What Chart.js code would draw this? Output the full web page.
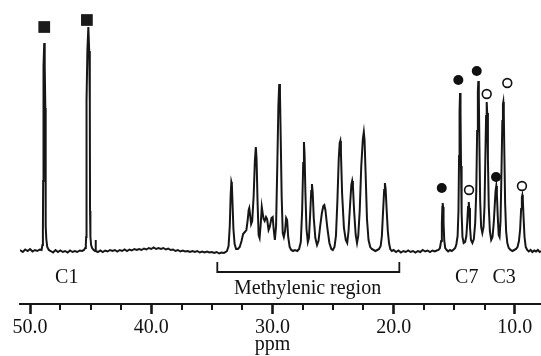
<!DOCTYPE html>
<html><head><meta charset="utf-8">
<script src="https://cdn.jsdelivr.net/npm/chart.js@4.4.1/dist/chart.umd.min.js"></script>
<style>html,body{margin:0;padding:0;background:#fff}canvas{display:block}</style>
</head><body>
<canvas id="c" width="541" height="356"></canvas>
<script>
// Chemical shift (ppm) and intensity
const ppmValues = [
50.83,50.6,50.4,50.2,50.0,49.8,49.6,49.4,49.2,49.05,48.98,48.94,48.92,48.91,48.87,48.83,48.79,48.74,48.72,48.70,48.66,48.58,48.45,
48.3,48.1,47.9,47.7,47.5,47.3,47.1,46.9,46.7,46.5,46.3,46.1,45.9,45.7,45.55,
45.45,45.4,45.37,45.35,45.33,45.27,45.19,45.12,45.07,45.05,45.02,44.96,44.88,44.75,44.64,44.6,44.56,
44.4,44.2,44.0,43.8,43.6,43.4,43.2,43.0,42.8,42.6,42.4,42.2,42.0,41.8,41.6,41.4,41.2,41.0,40.8,40.6,40.4,40.2,40.0,39.8,39.6,39.4,39.2,39.0,38.8,38.6,38.4,38.2,38.0,37.8,37.6,37.4,37.2,37.0,36.8,36.6,36.4,36.2,36.0,35.8,35.6,35.4,35.2,35.0,34.8,34.6,34.4,34.2,34.0,33.85,33.75,
33.62,33.52,33.45,33.39,33.35,33.3,33.22,33.12,33.0,32.85,
32.7,32.55,32.42,32.28,32.15,32.05,31.96,31.91,31.85,31.76,31.67,31.55,31.45,31.37,31.31,31.23,31.14,31.06,30.96,30.88,30.81,30.73,30.64,30.53,30.44,30.32,30.22,30.08,29.98,29.9,29.8,29.7,29.6,29.51,29.44,29.38,29.32,29.24,29.15,29.06,28.96,28.87,28.79,28.7,28.58,28.45,28.3,28.15,27.95,27.8,
27.66,27.55,27.46,27.40,27.35,27.28,27.19,27.08,26.99,26.89,26.8,26.74,26.68,26.59,26.46,26.32,26.2,26.06,25.92,25.8,25.72,25.63,25.47,25.3,25.14,25.02,24.88,24.76,24.64,24.53,24.45,24.4,24.35,24.25,24.1,23.95,23.83,23.72,23.6,23.49,23.42,23.36,23.26,23.13,23.02,22.92,22.8,22.67,22.54,22.46,22.4,22.31,22.2,22.07,21.93,21.8,21.65,21.5,21.35,21.2,21.07,20.97,20.87,20.78,20.72,20.66,20.58,20.48,20.38,20.28,20.15,
20.0,19.8,19.6,19.4,19.2,19.0,18.8,18.6,18.4,18.2,18.0,17.8,17.6,17.4,17.2,17.0,16.8,16.6,16.45,
16.3,16.18,16.08,16.02,15.98,15.95,15.92,15.88,15.82,15.74,15.62,15.5,15.35,15.2,15.05,14.92,14.82,14.72,14.65,14.6,14.56,14.52,14.48,14.44,14.39,14.32,14.22,14.1,14.0,13.92,13.86,13.80,13.76,13.7,13.62,13.5,13.38,13.27,13.18,13.11,13.05,13.01,12.97,12.92,12.86,12.78,12.68,12.58,12.5,12.43,12.37,12.32,12.28,12.22,12.15,12.06,11.95,11.84,11.74,11.66,11.59,11.53,11.48,11.41,11.33,11.26,11.18,11.1,11.03,10.98,10.95,10.91,10.86,10.8,10.72,10.62,10.5,10.35,10.2,10.05,9.9,9.78,9.66,9.56,9.48,9.42,9.38,9.34,9.28,9.2,9.1,8.98,8.85,8.7,8.55,8.4,8.25,8.1,7.95,7.84
];
const intensity = [
1,-1,1.5,0,2,-0.5,1,0,1.5,1,6,20,70,143,185,208,185,143,70,25,12,4,1,
0,-1.5,1,-1,0.5,-1,0,-1.5,0.5,-1,0,-1,0.5,0,1,
3,6,14,40,150,200,224,200,150,40,14,6,3,1,0,11,0,
-1,0.5,-1,0.5,-0.5,1,0,1,-0.5,1,0,1.5,0,1.5,0.5,2,1,2,1,2.5,1.5,3,2,3.5,2,3,2,3,1.5,2.5,1,1.5,0,1,-0.5,0.5,-0.5,0,-1,0,-1,0,-1.5,-0.5,-1.5,-0.5,-1.5,-1,-2,-1,-2.5,-1.5,-2,-1,0,
5,25,55,69,67,50,22,7,2,2,
4,10,17,19,21,30,41,43,37,27,30,55,90,104,92,50,16,13,28,44,38,32,30,34,32,21,24,33,34,22,11,25,85,145,167,158,115,55,18,14,20,33,31,14,4,1,0,1,0,2,
9,40,88,109,97,58,22,9,13,36,60,67,59,33,13,6,10,25,38,45,46,41,23,8,2,1,4,15,50,92,108,110,99,57,23,11,8,20,45,66,70,65,40,16,8,15,40,85,112,119,111,77,32,11,4,2,1,0,1,2,5,15,40,61,68,62,42,20,8,2,0,
1,-1,0.5,-1.5,0,-1,0.5,-1,0,-1.5,0,-1,1,-0.5,0.5,-1,0.5,-0.5,0.5,
1,3,10,28,44,48,44,28,10,3,1,-0.5,1,0,1.5,3,7,15,40,95,140,158,138,85,38,14,8,9,15,30,44,49,43,24,11,8,12,28,60,120,160,170,155,105,50,24,18,24,45,95,135,149,138,92,45,20,11,14,28,45,60,65,57,35,16,14,30,80,130,147,149,138,95,48,20,8,3,1,0,1,2,4,10,22,42,54,56,52,34,14,4,1,-0.5,1,-1,0.5,-0.5,1,-1,0
];
// Peak assignment markers (ppm, intensity)
const squarePpm = [48.83, 45.31];
const squareInt = [224, 231];
const filledPpm = [16.03, 14.66, 13.14, 11.55];
const filledInt = [63, 171, 180, 74];
const openPpm = [13.78, 12.32, 10.62, 9.41];
const openInt = [61, 157, 168, 65];
// Axis ticks
const majorTicks = [50, 40, 30, 20, 10];
const minorTicks = [47.5, 45, 42.5, 37.5, 35, 32.5, 27.5, 25, 22.5, 17.5, 15, 12.5];
const axisTitle = 'ppm';
const regionText = 'Methylenic region';
const carbonLabels = ['C1', 'C7', 'C3'];

const toPts = (xs, ys) => xs.map((v, i) => ({x: v, y: ys[i]}));
const FONT = '"Liberation Serif", "Times New Roman", serif';
const INK = '#161616';

const annot = {
  id: 'annot',
  afterDraw(chart) {
    const {ctx, scales: {x, y}, chartArea} = chart;
    ctx.save();
    // minor ticks
    ctx.strokeStyle = INK; ctx.lineWidth = 2;
    const yb = chartArea.bottom;
    minorTicks.forEach(v => {
      const px = Math.round(x.getPixelForValue(v));
      ctx.beginPath(); ctx.moveTo(px, yb); ctx.lineTo(px, yb + 6); ctx.stroke();
    });
    // bracket for methylenic region
    const bl = x.getPixelForValue(34.55), br = x.getPixelForValue(19.53);
    const bt = y.getPixelForValue(-11), bh = y.getPixelForValue(-21);
    ctx.lineWidth = 1.8;
    ctx.beginPath();
    ctx.moveTo(bl, bt); ctx.lineTo(bl, bh); ctx.lineTo(br, bh); ctx.lineTo(br, bt);
    ctx.stroke();
    // texts
    ctx.fillStyle = '#111';
    ctx.font = '20px ' + FONT;
    ctx.textAlign = 'center';
    ctx.textBaseline = 'alphabetic';
    ctx.fillText(regionText, x.getPixelForValue(27.1), y.getPixelForValue(-43.3));
    const cpos = [46.97, 13.97, 10.88];
    carbonLabels.forEach((t, i) => ctx.fillText(t, x.getPixelForValue(cpos[i]), y.getPixelForValue(-32.3)));
    ctx.fillText(axisTitle, x.getPixelForValue(30), y.getPixelForValue(-99));
    ctx.restore();
  }
};

new Chart(document.getElementById('c'), {
  type: 'line',
  data: {
    datasets: [
      { data: toPts(ppmValues, intensity), borderColor: INK, borderWidth: 2, pointRadius: 0, tension: 0, fill: false, order: 3 },
      { data: toPts(squarePpm, squareInt), showLine: false, pointStyle: 'rect', pointRadius: 8.3, pointBackgroundColor: '#1a1a1a', pointBorderColor: '#1a1a1a', pointBorderWidth: 0, order: 1 },
      { data: toPts(filledPpm, filledInt), showLine: false, pointStyle: 'circle', pointRadius: 5, pointBackgroundColor: '#111', pointBorderColor: '#111', pointBorderWidth: 0, order: 1 },
      { data: toPts(openPpm, openInt), showLine: false, pointStyle: 'circle', pointRadius: 4.4, pointBackgroundColor: '#fff', pointBorderColor: '#111', pointBorderWidth: 1.6, order: 1 }
    ]
  },
  options: {
    responsive: false,
    devicePixelRatio: 1,
    animation: false,
    events: [],
    layout: { autoPadding: false, padding: { left: 20, right: 0, top: 0, bottom: 0 } },
    plugins: { legend: { display: false }, tooltip: { enabled: false } },
    scales: {
      x: {
        type: 'linear', reverse: true, min: 7.84, max: 50.83,
        afterBuildTicks: (s) => { s.ticks = majorTicks.map(v => ({value: v})); },
        afterFit: (s) => { s.height = 52; s.paddingRight = 0; },
        grid: { drawOnChartArea: false, drawTicks: true, tickLength: 10, tickWidth: 2.6, tickColor: INK },
        border: { display: true, color: INK, width: 2 },
        ticks: { padding: 2, color: '#111', font: { family: FONT, size: 20 }, maxRotation: 0, autoSkip: false,
          callback: (v) => Number(v).toFixed(1) }
      },
      y: { display: false, min: -53, max: 251 }
    }
  },
  plugins: [annot]
});
</script>
</body></html>
